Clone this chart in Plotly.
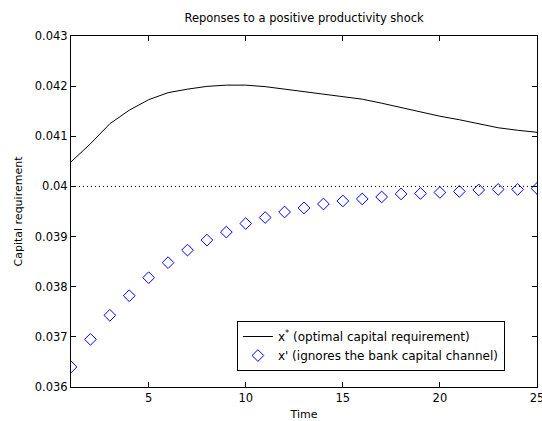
import plotly.graph_objects as go

time = list(range(1, 26))
x_star = [0.04049, 0.04085, 0.04125, 0.04152, 0.04173, 0.04187, 0.04194, 0.041995, 0.04202, 0.04202,
          0.04199, 0.04194, 0.04190, 0.04185, 0.04180, 0.04174, 0.04166, 0.04157, 0.04148, 0.04140,
          0.04133, 0.04125, 0.04117, 0.04112, 0.04108]
x_prime = [0.03640, 0.03695, 0.03743, 0.03782, 0.03818, 0.03848, 0.03873, 0.03893, 0.03909, 0.03926,
           0.03938, 0.03949, 0.03957, 0.03965, 0.03971, 0.03975, 0.03979, 0.03985, 0.03986, 0.03988,
           0.03990, 0.03993, 0.03994, 0.03994, 0.03996]
steady_state = 0.04
y_ticks = [0.036, 0.037, 0.038, 0.039, 0.040, 0.041, 0.042, 0.043]
y_tick_labels = ["0.036", "0.037", "0.038", "0.039", "0.04", "0.041", "0.042", "0.043"]
x_ticks = [5, 10, 15, 20, 25]

FONT = "DejaVu Sans, Verdana, sans-serif"

fig = go.Figure()
fig.add_trace(go.Scatter(
    x=time, y=x_star, mode="lines",
    line=dict(color="black", width=1),
    name="x<sup>*</sup> (optimal capital requirement)"))
fig.add_trace(go.Scatter(
    x=time, y=x_prime, mode="markers",
    marker=dict(symbol="diamond-open", size=9, color="#0000ff", line=dict(width=1, color="#0000ff")),
    name="x' (ignores the bank capital channel)"))
fig.add_hline(y=steady_state, line=dict(color="black", width=1, dash="1px,3px"))

axis_common = dict(
    showline=True, linecolor="black", linewidth=1, mirror="ticks",
    ticks="inside", ticklen=5, tickcolor="black", tickwidth=1,
    showgrid=False, zeroline=False, automargin=False,
    tickfont=dict(family=FONT, size=11.5, color="black"),
    ticklabeloverflow="allow",
)
fig.update_xaxes(range=[1, 25], tickvals=x_ticks,
                 title=dict(text="Time", font=dict(family=FONT, size=11, color="black"), standoff=10),
                 **axis_common)
fig.update_yaxes(range=[0.036, 0.043], tickvals=y_ticks, ticktext=y_tick_labels,
                 title=dict(text="Capital requirement", font=dict(family=FONT, size=11, color="black"), standoff=9),
                 **axis_common)

fig.update_layout(
    width=542, height=421,
    margin=dict(l=71, r=5, t=36, b=34),
    paper_bgcolor="white", plot_bgcolor="white",
    font=dict(family=FONT, size=11, color="black"),
    title=dict(text="Reponses to a positive productivity shock", x=0.561, xanchor="center",
               y=0.957, yanchor="middle", font=dict(family=FONT, size=11.5, color="black")),
    legend=dict(x=0.356, y=0.188, xanchor="left", yanchor="top",
                bgcolor="white", bordercolor="black", borderwidth=1,
                font=dict(family=FONT, size=12, color="black"),
                tracegroupgap=0),
    showlegend=True,
)

fig.write_html("out.html")
